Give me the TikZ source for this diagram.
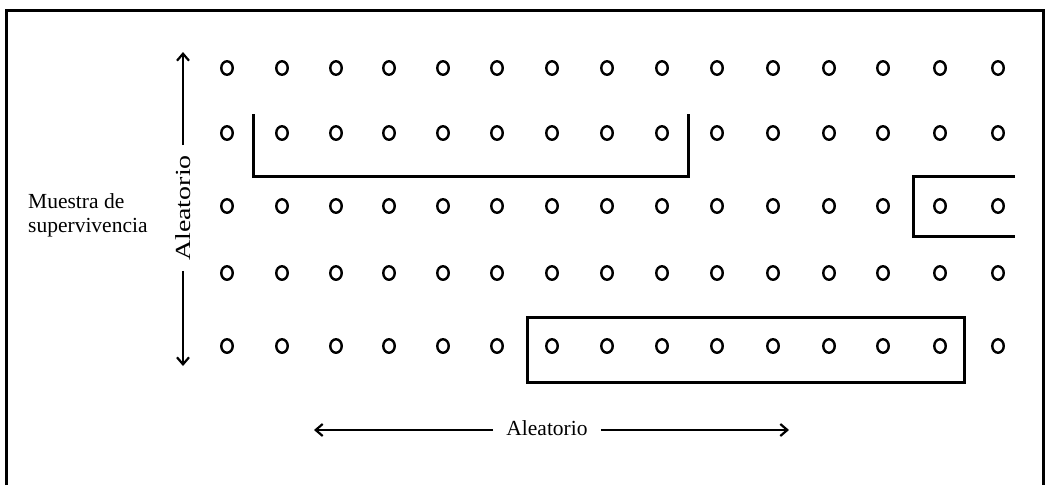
\documentclass[tikz,border=0pt]{standalone}
\usepackage{fontspec}
\setmainfont{Liberation Serif}
\usetikzlibrary{arrows.meta,shapes.geometric}

\tikzset{
  dot/.style={ellipse, draw, line width=2.4pt, minimum width=11.5pt, minimum height=13.5pt, inner sep=0pt},
  rule/.style={line width=3pt},
  frame/.style={line width=3pt},
  arr/.style={line width=2.2pt, -{Straight Barb[length=7pt,width=12pt,line width=2.2pt]}},
  lbl/.style={font=\fontsize{21.5}{24}\selectfont},
}

\begin{document}
\begin{tikzpicture}[x=1pt, y=-1pt]
  \useasboundingbox (0,0) rectangle (1050,485);

  % outer frame, open at the bottom
  \draw[frame] (6,485) -- (6,10) -- (1043,10) -- (1043,485);

  % grid of plants: five rows, fifteen columns
  \foreach \r/\y in {1/68, 2/133, 3/206, 4/273, 5/346} {
    \foreach \c/\x in {1/227, 2/282, 3/336, 4/389, 5/443, 6/497, 7/552, 8/607,
                       9/662, 10/717, 11/773, 12/829, 13/883, 14/940, 15/998} {
      \node[dot] (d-\r-\c) at (\x,\y) {};
    }
  }

  % sampled groups
  \draw[rule] (253,114) -- (253,176) -- (688,176) -- (688,114);
  \draw[rule] (1015,176) -- (913,176) -- (913,236) -- (1015,236);
  \draw[rule] (527,317) rectangle (964,382);

  % left label
  \node[lbl, align=left, anchor=west, inner sep=0pt] (muestra) at (28,215) {Muestra de\\supervivencia};

  % vertical random direction
  \node[lbl, rotate=90, inner xsep=10pt, inner ysep=2pt] (vrand) at (183,208) {\scalebox{1.3}[1]{Aleatorio}};
  \coordinate (vtop) at (183,52);
  \coordinate (vbot) at (183,366);
  \draw[arr] (vrand.east) -- (vtop);
  \draw[arr] (vrand.west) -- (vbot);

  % horizontal random direction
  \node[lbl, inner xsep=13pt, inner ysep=2pt] (hrand) at (547,428) {Aleatorio};
  \coordinate (hleft) at (314,430);
  \coordinate (hright) at (789,430);
  \draw[arr] (hrand.west |- hleft) -- (hleft);
  \draw[arr] (hrand.east |- hright) -- (hright);
\end{tikzpicture}
\end{document}
